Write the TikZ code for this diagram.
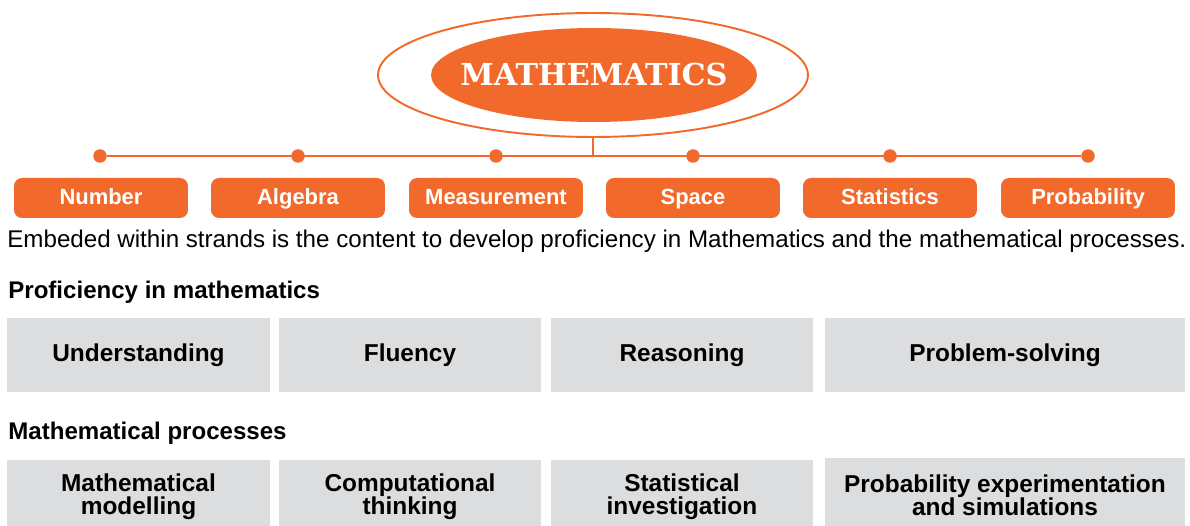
\documentclass[tikz,border=0pt]{standalone}
\usepackage{fontspec}
\setmainfont{Liberation Sans}
\newfontfamily\slabfont{DejaVu Serif}
\usetikzlibrary{shapes.geometric}
\definecolor{mathorange}{HTML}{F26A2B}
\definecolor{boxgrey}{HTML}{DCDDDF}
\begin{document}
\begin{tikzpicture}[x=0.02cm,y=-0.02cm,
  strand/.style={fill=mathorange,rounded corners=0.16cm,minimum width=3.48cm,minimum height=0.8cm,
    text height=1.75ex,text depth=0.45ex,text=white,font=\fontsize{12.5}{14}\selectfont\bfseries},
  dot/.style={circle,fill=mathorange,inner sep=0pt,minimum size=0.27cm},
  greybox/.style={fill=boxgrey,align=center,minimum height=1.48cm,
    font=\fontsize{13.9}{13.2}\selectfont\bfseries},
  heading/.style={anchor=west,inner sep=0pt,font=\fontsize{13.7}{16}\selectfont\bfseries},
  link/.style={draw=mathorange,line width=1.1pt}]
\useasboundingbox (0,0) rectangle (1190,526);
\clip (0,0) rectangle (1190,526);
\node[ellipse,draw=mathorange,line width=1.1pt,minimum width=8.6cm,minimum height=2.48cm] (outer) at (593,75) {};
\node[ellipse,fill=mathorange,inner sep=0pt,minimum width=6.52cm,minimum height=1.88cm] (math) at (594,75) {};
\node[text=white,font=\slabfont\fontsize{17.2}{20}\selectfont\bfseries] (mathlabel) at (math) {MATHEMATICS};
\node[dot] (d1) at (100,156) {};
\node[dot] (d2) at (298,156) {};
\node[dot] (d3) at (496,156) {};
\node[dot] (d4) at (693,156) {};
\node[dot] (d5) at (890,156) {};
\node[dot] (d6) at (1088,156) {};
\draw[link] (d1) -- (d6);
\draw[link] (outer.south) -- (outer.south |- d1);
\node[strand] (number) at (101,198) {Number};
\node[strand] (algebra) at (298,198) {Algebra};
\node[strand] (measure) at (496,198) {Measurement};
\node[strand] (space) at (693,198) {Space};
\node[strand] (stats) at (890,198) {Statistics};
\node[strand] (prob) at (1088,198) {Probability};
\node[anchor=west,inner sep=0pt,font=\fontsize{13.75}{16}\selectfont] (embed) at (7,241)
  {Embeded within strands is the content to develop proficiency in Mathematics and the mathematical processes.};
\node[heading] (prof) at (8,292) {Proficiency in mathematics};
\node[greybox,minimum width=5.26cm] (under) at (138.5,355) {Understanding};
\node[greybox,minimum width=5.24cm] (fluency) at (410,355) {Fluency};
\node[greybox,minimum width=5.24cm] (reason) at (682,355) {Reasoning};
\node[greybox,minimum width=7.2cm] (solve) at (1005,355) {Problem-solving};
\node[heading] (proc) at (8,433) {Mathematical processes};
\node[greybox,minimum width=5.26cm] (model) at (138.5,497) {Mathematical\\modelling};
\node[greybox,minimum width=5.24cm] (comput) at (410,497) {Computational\\thinking};
\node[greybox,minimum width=5.24cm] (invest) at (682,497) {Statistical\\investigation};
\node[greybox,minimum width=7.2cm] (simul) at (1005,495) {Probability experimentation\\and simulations};
\end{tikzpicture}
\end{document}
